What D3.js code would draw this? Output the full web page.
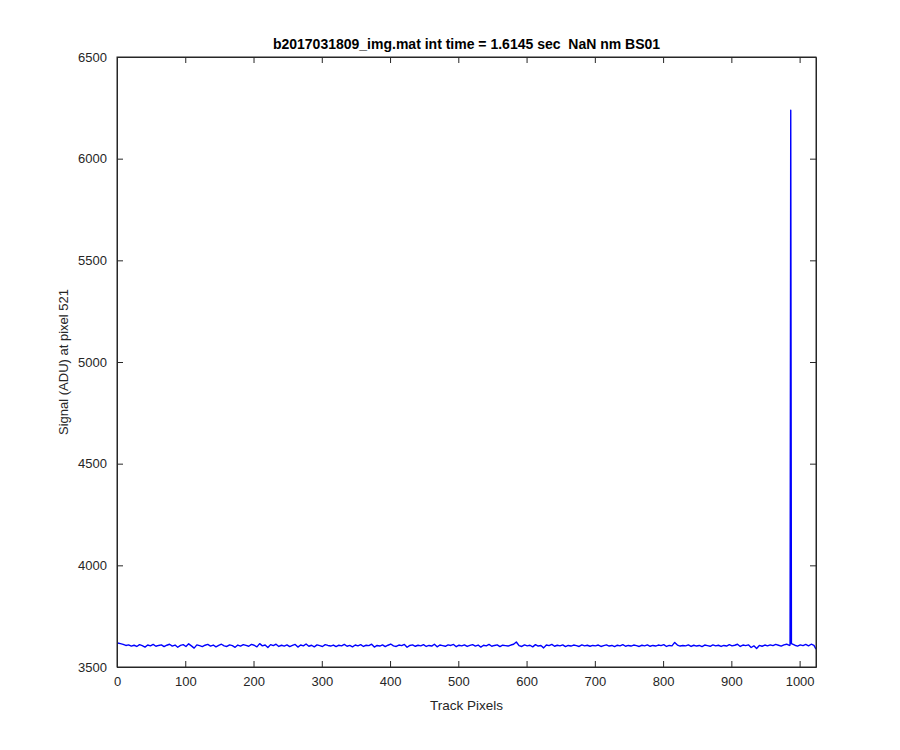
<!DOCTYPE html>
<html>
<head>
<meta charset="utf-8">
<script src="https://cdn.jsdelivr.net/npm/d3@7"></script>
<style>
  body { margin: 0; background: #fff; }
  svg { font-family: "Liberation Sans", Arial, sans-serif; }
</style>
</head>
<body>
<svg width="900" height="750"></svg>
<script>
// signal, one value every 4 track pixels (1, 5, 9, ... 985)
const baseSignal = [
  3618, 3615, 3611, 3606, 3609, 3603, 3607, 3601, 3610, 3605, 3598, 3608, 3604, 3611, 3602, 3606,
  3609, 3600, 3607, 3612, 3603, 3608, 3597, 3606, 3610, 3601, 3614, 3604, 3593, 3609, 3605, 3600,
  3607, 3611, 3603, 3608, 3599, 3606, 3612, 3604, 3601, 3609, 3605, 3597, 3608, 3603, 3610, 3606,
  3602, 3611, 3607, 3599, 3615, 3604, 3608, 3596, 3610, 3605, 3612, 3601, 3607, 3603, 3609, 3600,
  3606, 3611, 3598, 3608, 3604, 3613, 3602, 3607, 3599, 3609, 3605, 3601, 3610, 3606, 3603, 3608,
  3600, 3607, 3604, 3611, 3602, 3606, 3599, 3608, 3604, 3610, 3601, 3607, 3605, 3612, 3598, 3606,
  3603, 3609, 3600, 3607, 3613, 3604, 3601, 3608, 3605, 3611, 3597, 3606, 3609, 3602, 3607, 3604,
  3610, 3601, 3606, 3603, 3612, 3599, 3608, 3605, 3602, 3609, 3606, 3611, 3600, 3607, 3604, 3609,
  3601, 3606, 3610, 3603, 3608, 3598, 3607, 3604, 3611, 3602, 3606, 3609, 3600, 3607, 3605, 3603,
  3608, 3612, 3623, 3605, 3601, 3609, 3604, 3607, 3599, 3610, 3603, 3606, 3594, 3608, 3605, 3611,
  3602, 3607, 3604, 3609, 3600, 3606, 3603, 3608, 3605, 3601, 3609, 3604, 3607, 3602, 3606, 3604,
  3608, 3601, 3605, 3609, 3603, 3606, 3600, 3607, 3604, 3610, 3602, 3606, 3603, 3608, 3605, 3601,
  3607, 3604, 3609, 3602, 3606, 3603, 3608, 3605, 3610, 3601, 3606, 3604, 3621, 3608, 3603, 3606,
  3604, 3609, 3601, 3607, 3603, 3606, 3600, 3608, 3605, 3602, 3609, 3604, 3607, 3601, 3606, 3603,
  3610, 3604, 3607, 3612, 3601, 3608, 3605, 3609, 3596, 3604, 3591, 3606, 3602, 3608, 3604, 3609,
  3605, 3611, 3607, 3603, 3609, 3612, 3606
];
// the spike and the tail after it
const tailPixels = [986, 987, 988, 993, 997, 1001, 1005, 1009, 1013, 1017, 1021, 1024];
const tailSignal = [3608, 6238, 3615, 3607, 3603, 3609, 3605, 3611, 3604, 3612, 3606, 3588];

const xTicks = d3.range(0, 1001, 100);
const yTicks = [3500, 4000, 4500, 5000, 5500, 6000, 6500];

const titleText = "b2017031809_img.mat int time = 1.6145 sec  NaN nm BS01";
const xLabel = "Track Pixels";
const yLabel = "Signal (ADU) at pixel 521";

const points = baseSignal.map((v, i) => ({ x: 1 + 4 * i, y: v }))
  .concat(tailPixels.map((p, i) => ({ x: p, y: tailSignal[i] })));

const box = { left: 117, right: 816, top: 57, bottom: 667 };
const axisColor = "#262626";

const svg = d3.select("svg");

const x = d3.scaleLinear().domain([0, 1024]).range([box.left, box.right]);
const y = d3.scaleLinear().domain([3500, 6500]).range([box.bottom, box.top]);

// data line
svg.append("path")
  .datum(points)
  .attr("fill", "none")
  .attr("stroke", "#0000ff")
  .attr("stroke-width", 1.4)
  .attr("stroke-linejoin", "round")
  .attr("d", d3.line().x(d => x(d.x)).y(d => y(d.y)));

// axes, ticks pointing inward like matlab
const styleAxis = g => {
  g.select(".domain").attr("stroke", axisColor);
  g.selectAll(".tick line").attr("stroke", axisColor);
  g.selectAll(".tick text").attr("fill", axisColor).attr("font-size", 13);
};

svg.append("g")
  .attr("transform", `translate(0,${box.bottom})`)
  .call(d3.axisBottom(x).tickValues(xTicks).tickFormat(d3.format("d"))
    .tickSizeInner(-6).tickSizeOuter(0).tickPadding(10))
  .call(styleAxis);

svg.append("g")
  .attr("transform", `translate(0,${box.top})`)
  .call(d3.axisTop(x).tickValues(xTicks).tickSizeInner(-6).tickSizeOuter(0).tickFormat(""))
  .call(styleAxis);

svg.append("g")
  .attr("transform", `translate(${box.left},0)`)
  .call(d3.axisLeft(y).tickValues(yTicks).tickFormat(d3.format("d"))
    .tickSizeInner(-6).tickSizeOuter(0).tickPadding(10))
  .call(styleAxis);

svg.append("g")
  .attr("transform", `translate(${box.right},0)`)
  .call(d3.axisRight(y).tickValues(yTicks).tickSizeInner(-6).tickSizeOuter(0).tickFormat(""))
  .call(styleAxis);

// box outline
svg.append("rect")
  .attr("x", box.left).attr("y", box.top)
  .attr("width", box.right - box.left).attr("height", box.bottom - box.top)
  .attr("fill", "none").attr("stroke", axisColor).attr("stroke-width", 1);

svg.append("text")
  .attr("x", (box.left + box.right) / 2).attr("y", 49)
  .attr("text-anchor", "middle")
  .style("white-space", "pre")
  .attr("font-size", 14).attr("font-weight", "bold")
  .attr("fill", "#000")
  .text(titleText);

svg.append("text")
  .attr("x", (box.left + box.right) / 2).attr("y", 710)
  .attr("text-anchor", "middle")
  .attr("font-size", 13.5).attr("fill", axisColor)
  .text(xLabel);

svg.append("text")
  .attr("transform", `translate(68,${(box.top + box.bottom) / 2}) rotate(-90)`)
  .attr("text-anchor", "middle")
  .attr("font-size", 13).attr("fill", axisColor)
  .text(yLabel);
</script>
</body>
</html>
